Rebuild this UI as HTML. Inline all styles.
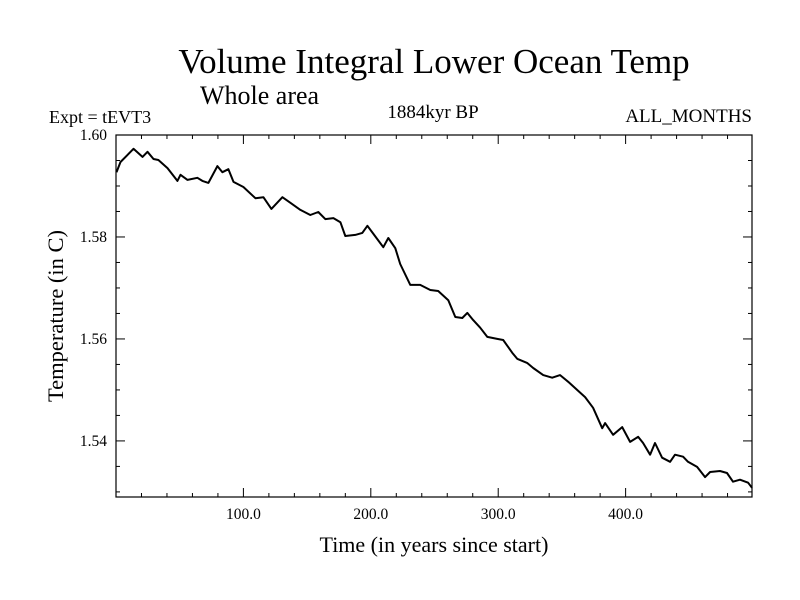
<!DOCTYPE html>
<html><head><meta charset="utf-8"><style>
body{margin:0;background:#fff}
svg{display:block}
text{font-family:"Liberation Serif",serif;fill:#000}
</style></head><body>
<svg id="chart" width="800" height="600" xmlns="http://www.w3.org/2000/svg">
<text x="434" y="73" font-size="35" text-anchor="middle">Volume Integral Lower Ocean Temp</text>
<text x="200" y="104" font-size="26">Whole area</text>
<text x="49" y="123" font-size="18">Expt = tEVT3</text>
<text x="433" y="118" font-size="19" text-anchor="middle">1884kyr BP</text>
<text x="752" y="122" font-size="19" text-anchor="end">ALL_MONTHS</text>
<text x="434" y="552" font-size="22" text-anchor="middle">Time (in years since start)</text>
<text transform="translate(63,316) rotate(-90)" font-size="22.5" text-anchor="middle">Temperature (in C)</text>
<g id="axes"></g>
<path id="series" fill="none" stroke="#000" stroke-width="2" stroke-linejoin="round"/>
<rect x="116" y="135" width="636" height="362" fill="none" stroke="#000" stroke-width="1.2"/>
</svg>
<script>
const years=[0.4,3.5,9.0,13.7,20.8,24.7,29.4,33.3,40.4,48.2,50.6,56.1,63.9,67.8,72.5,79.6,83.5,88.2,92.2,100.0,109.4,115.7,122.0,130.6,136.9,144.7,152.5,158.8,164.3,170.6,176.1,180.0,187.8,193.3,197.3,202.0,209.8,213.7,219.2,223.1,231.0,238.8,246.7,252.9,260.8,266.3,271.8,275.7,280.4,285.9,291.4,299.2,303.9,311.0,314.9,322.7,327.5,335.3,342.4,348.6,354.9,361.9,368.2,374.5,381.6,383.9,390.2,397.3,403.5,409.8,413.7,419.2,423.1,428.6,434.9,438.8,445.1,449.0,456.1,462.4,466.3,474.1,479.6,484.3,489.8,496.1,499.2];
const temps=[1.5927,1.5947,1.5961,1.5973,1.5957,1.5967,1.5953,1.5951,1.5935,1.5910,1.5922,1.5912,1.5916,1.5910,1.5906,1.5939,1.5927,1.5933,1.5908,1.5898,1.5876,1.5878,1.5855,1.5878,1.5867,1.5853,1.5843,1.5849,1.5835,1.5837,1.5829,1.5802,1.5804,1.5808,1.5822,1.5806,1.5780,1.5798,1.5778,1.5747,1.5706,1.5706,1.5696,1.5694,1.5676,1.5643,1.5641,1.5651,1.5637,1.5622,1.5604,1.5600,1.5598,1.5573,1.5561,1.5553,1.5543,1.5529,1.5524,1.5529,1.5516,1.5500,1.5486,1.5465,1.5425,1.5435,1.5412,1.5427,1.5398,1.5408,1.5396,1.5373,1.5396,1.5367,1.5359,1.5373,1.5369,1.5359,1.5349,1.5329,1.5339,1.5341,1.5337,1.5320,1.5324,1.5318,1.5308];
const xTickValues=[100,200,300,400];
const xTickLabels=["100.0","200.0","300.0","400.0"];
const yTickValues=[1.54,1.56,1.58,1.60];
const yTickLabels=["1.54","1.56","1.58","1.60"];
const X0=116,X1=752,Y0=135,Y1=497,XMIN=0,XMAX=499.2,YMIN=1.529,YMAX=1.60;
function sx(v){return X0+(v-XMIN)/(XMAX-XMIN)*(X1-X0);}
function sy(v){return Y1-(v-YMIN)/(YMAX-YMIN)*(Y1-Y0);}
const NS="http://www.w3.org/2000/svg";
const axes=document.getElementById('axes');
function line(x1,y1,x2,y2,name){const l=document.createElementNS(NS,'line');
l.setAttribute('x1',x1);l.setAttribute('y1',y1);l.setAttribute('x2',x2);l.setAttribute('y2',y2);
l.setAttribute('stroke','#000');l.setAttribute('stroke-width','1');


axes.appendChild(l);}
function txt(x,y,s,anchor,name){const t=document.createElementNS(NS,'text');
t.setAttribute('x',x);t.setAttribute('y',y);t.setAttribute('font-size','15.5');t.setAttribute('text-anchor',anchor);t.textContent=s;


axes.appendChild(t);}
for(let v=20;v<XMAX;v+=20){const x=sx(v);const major=v%100===0;const L=major?9:4;
line(x,Y1,x,Y1-L,'x-tick');line(x,Y0,x,Y0+L,'x-tick-top');}
xTickValues.forEach((v,i)=>txt(sx(v),519,xTickLabels[i],'middle','x-tick-label'));
for(let k=0;k<=14;k++){const v=1.53+k*0.005;if(v<YMIN||v>YMAX+1e-9)continue;const y=sy(v);
const major=Math.abs((v*100)%2)<1e-6||Math.abs((v*100)%2-2)<1e-6;const L=major?9:4;
line(X0,y,X0+L,y,'y-tick');line(X1,y,X1-L,y,'y-tick-right');}
yTickValues.forEach((v,i)=>txt(107,sy(v)+5,yTickLabels[i],'end','y-tick-label'));
let d='';years.forEach((t,i)=>{d+=(i?'L':'M')+sx(t).toFixed(1)+','+sy(temps[i]).toFixed(1);});
document.getElementById('series').setAttribute('d',d);
</script>
</body></html>
